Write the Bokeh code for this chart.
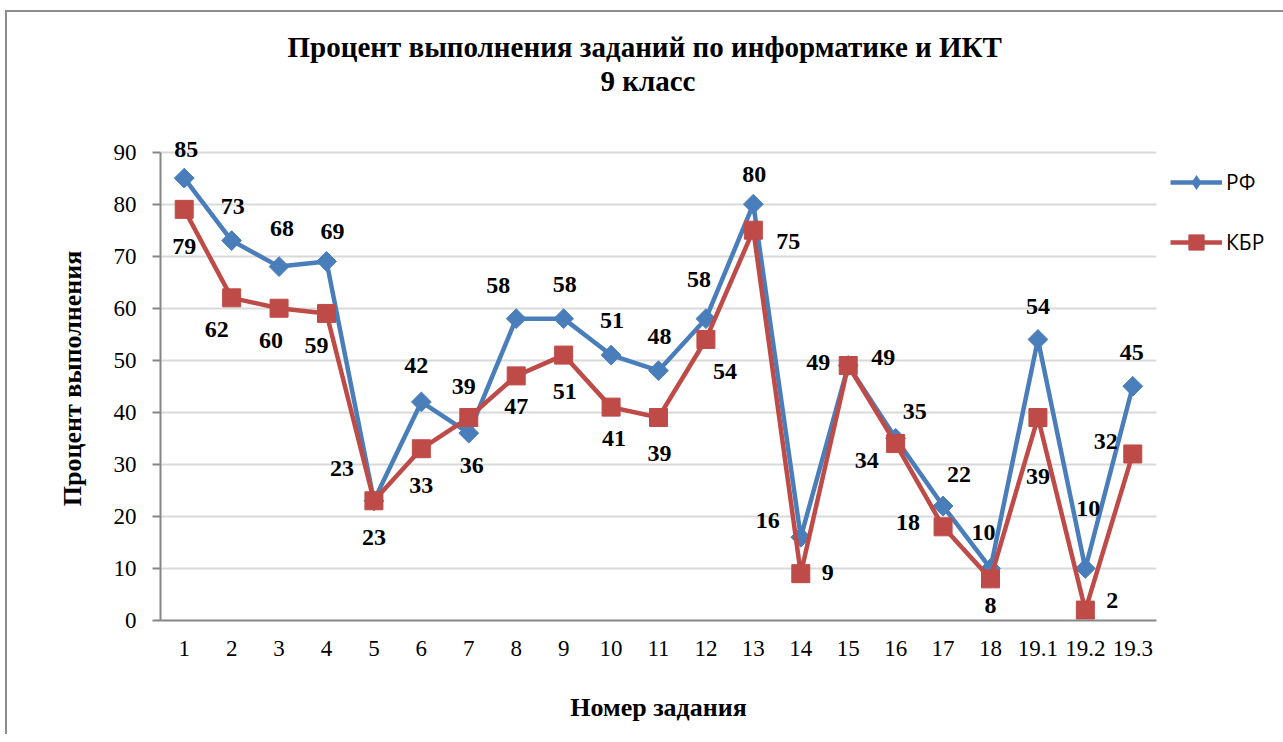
from bokeh.plotting import figure
from bokeh.models import (ColumnDataSource, LabelSet, Legend, LegendItem, FactorRange,
                          FixedTicker, Title)
from bokeh.embed import file_html
from bokeh.resources import INLINE
import math

# ---- data ----
tasks = ["1", "2", "3", "4", "5", "6", "7", "8", "9", "10", "11", "12", "13",
         "14", "15", "16", "17", "18", "19.1", "19.2", "19.3"]
rf = [85, 73, 68, 69, 23, 42, 36, 58, 58, 51, 48, 58, 80, 16, 49, 35, 22, 10, 54, 10, 45]
kbr = [79, 62, 60, 59, 23, 33, 39, 47, 51, 41, 39, 54, 75, 9, 49, 34, 18, 8, 39, 2, 32]
y_ticks = [0, 10, 20, 30, 40, 50, 60, 70, 80, 90]

# ---- label placement (screen px, dy positive = down) ----
rf_dx = [2, 1, 3, 6, -32, -5, 3, -18, 1, 1, 1, -7, 1, -33, -30, 19, 16, -7, 0, 3, -1]
rf_dy = [-29, -34, -38, -30, -32, -36, 32, -33, -34, -35, -34, -39, -30, -17, -3, -27, -32, -36, -33, -60, -34]
kbr_dx = [0, -15, -8, -10, 0, 0, -5, 0, 1, 3, 1, 19, 35, 27, 35, -29, -35, 0, 0, 27, -27]
kbr_dy = [37, 32, 32, 32, 37, 37, -31, 31, 36, 31, 36, 32, 11, -1, -8, 17, -4, 27, 59, -10, -12]

BLUE = "#4a7ebb"
RED = "#be4b48"
SERIF = "Liberation Serif"

p = figure(x_range=FactorRange(*tasks, range_padding=0), y_range=(0, 93),
           frame_width=996, frame_height=484, output_backend="svg", toolbar_location=None,
           min_border_left=153, min_border_top=124, min_border_bottom=114, min_border_right=110)
p.styles = {"margin-left": "5px", "margin-top": "10px",
            "border-left": "2px solid #8c8c8c", "border-top": "2px solid #8c8c8c"}

p.title.text = "Процент выполнения заданий по информатике и ИКТ"
p.title.align = "left"
p.title.offset = 127
p.title.text_font = SERIF
p.title.text_font_size = "29px"
p.title.text_font_style = "bold"
p.title.text_color = "#000000"
p.title.standoff = 0
# spacer between the title block and the plot area
p.add_layout(Title(text=" ", text_font_size="10px", standoff=27), "above")
p.add_layout(Title(text="9 класс", align="left", offset=440,
                   text_font=SERIF, text_font_size="29px", text_font_style="bold",
                   text_color="#000000", standoff=0), "above")

p.outline_line_color = None
p.xgrid.grid_line_color = None
p.ygrid.grid_line_color = "#d9d9d9"
p.ygrid.grid_line_width = 2

p.yaxis.ticker = FixedTicker(ticks=y_ticks)
p.yaxis.bounds = (0, 90)
p.yaxis.axis_line_color = "#868686"
p.yaxis.axis_line_width = 2
p.yaxis.major_tick_line_color = "#868686"
p.yaxis.major_tick_line_width = 2
p.yaxis.major_tick_out = 8
p.yaxis.major_tick_in = 0
p.yaxis.minor_tick_line_color = None
p.yaxis.major_label_text_font = SERIF
p.yaxis.major_label_text_font_size = "23px"
p.yaxis.major_label_text_color = "#000000"
p.yaxis.major_label_standoff = 16
p.yaxis.axis_label = "Процент выполнения"
p.yaxis.axis_label_text_font = SERIF
p.yaxis.axis_label_text_font_size = "26px"
p.yaxis.axis_label_text_font_style = "bold"
p.yaxis.axis_label_text_color = "#000000"
p.yaxis.axis_label_standoff = 24

p.xaxis.axis_line_color = "#868686"
p.xaxis.axis_line_width = 2
p.xaxis.major_tick_line_color = None
p.xaxis.major_tick_out = 0
p.xaxis.major_tick_in = 0
p.xaxis.major_label_text_font = SERIF
p.xaxis.major_label_text_font_size = "23px"
p.xaxis.major_label_text_color = "#000000"
p.xaxis.major_label_standoff = 20
p.xaxis.axis_label = "Номер задания"
p.xaxis.axis_label_text_font = SERIF
p.xaxis.axis_label_text_font_size = "26px"
p.xaxis.axis_label_text_font_style = "bold"
p.xaxis.axis_label_text_color = "#000000"
p.xaxis.axis_label_standoff = 34

src_rf = ColumnDataSource(dict(x=tasks, y=rf, t=[str(v) for v in rf],
                               dx=rf_dx, dy=[-d for d in rf_dy]))
src_kbr = ColumnDataSource(dict(x=tasks, y=kbr, t=[str(v) for v in kbr],
                                dx=kbr_dx, dy=[-d for d in kbr_dy]))

l1 = p.line("x", "y", source=src_rf, line_color=BLUE, line_width=4.5, line_join="round")
m1 = p.scatter("x", "y", source=src_rf, marker="square", size=14, angle=math.pi / 4,
               fill_color=BLUE, line_color=BLUE)
l2 = p.line("x", "y", source=src_kbr, line_color=RED, line_width=4.5, line_join="round")
m2 = p.scatter("x", "y", source=src_kbr, marker="square", size=18,
               fill_color=RED, line_color=RED)
# legend-only diamond glyph (zero size in the plot; the legend sizes markers itself)
leg_d = p.scatter("x", "y", source=src_rf, marker="diamond", size=0,
                  fill_color=BLUE, line_color=None)

for src in (src_rf, src_kbr):
    p.add_layout(LabelSet(x="x", y="y", text="t", source=src, x_offset="dx", y_offset="dy",
                          text_align="center", text_baseline="middle",
                          text_font=SERIF, text_font_size="24px", text_font_style="bold",
                          text_color="#000000"))

legend = Legend(items=[LegendItem(label="РФ", renderers=[l1, leg_d]),
                       LegendItem(label="КБР", renderers=[l2, m2])],
                location="top_left", orientation="vertical",
                title=" ", title_text_font_size="10px", title_standoff=2,
                glyph_width=52, glyph_height=38, label_height=38, spacing=22,
                label_standoff=4, margin=14, padding=0,
                label_text_font="Open Sans", label_text_font_size="21px",
                label_text_color="#000000",
                border_line_color=None, background_fill_color=None)
p.add_layout(legend, "right")

open("out.html", "w").write(file_html(p, INLINE))
